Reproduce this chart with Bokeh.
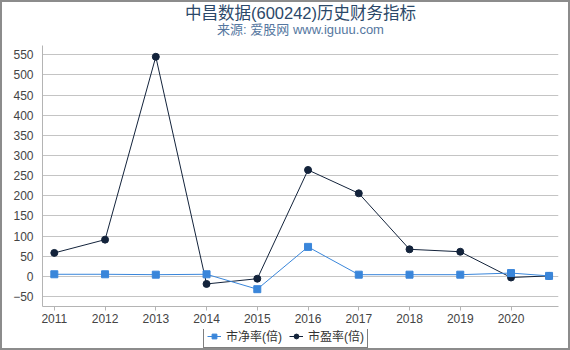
from bokeh.plotting import figure
from bokeh.layouts import column
from bokeh.models import Label, Legend, LegendItem, FixedTicker, Range1d
from bokeh.embed import file_html
from bokeh.resources import INLINE

# data
years = [2011, 2012, 2013, 2014, 2015, 2016, 2017, 2018, 2019, 2020, 2020.75]
pb_values = [5, 5, 4, 5, -32, 73, 4, 4, 4, 8, 1]        # 市净率(倍)
pe_values = [58, 91, 545, -19, -6, 264, 206, 67, 61, -3, 1]  # 市盈率(倍)
x_ticks = [2011, 2012, 2013, 2014, 2015, 2016, 2017, 2018, 2019, 2020]
x_tick_labels = [str(v) for v in x_ticks]
y_ticks = [-50, 0, 50, 100, 150, 200, 250, 300, 350, 400, 450, 500, 550]

title_text = "中昌数据(600242)历史财务指标"
subtitle_text = "来源: 爱股网 www.iguuu.com"
pb_label = "市净率(倍)"
pe_label = "市盈率(倍)"

FONT = "Liberation Sans, Noto Sans CJK SC, sans-serif"
BLUE = "#3a86da"
DARK = "#13233b"
W = 566

# header strip with title and subtitle
hd = figure(width=W, height=43, output_backend="svg", toolbar_location=None,
            x_range=Range1d(0, W), y_range=Range1d(0, 43),
            x_axis_type=None, y_axis_type=None, min_border=0, title=None)
hd.grid.visible = False
hd.outline_line_color = None
hd.border_fill_color = "white"
hd.add_layout(Label(x=W / 2, y=33, text=title_text, text_align="center",
                    text_baseline="middle", text_font=FONT,
                    text_font_size="16.5px", text_color="#2b4869"))
hd.add_layout(Label(x=W / 2, y=16, text=subtitle_text, text_align="center",
                    text_baseline="middle", text_font=FONT,
                    text_font_size="13px", text_color="#5577a0"))

# main chart
p = figure(width=W, height=284, output_backend="svg", toolbar_location=None,
           x_range=Range1d(2010.767, 2020.936), y_range=Range1d(-75, 573),
           min_border_left=40, min_border_right=10, min_border_top=0,
           min_border_bottom=23, title=None)
p.outline_line_color = None
p.background_fill_color = "white"
p.border_fill_color = "white"

p.line(years, pe_values, line_color=DARK, line_width=1)
p.scatter(years, pe_values, marker="circle", size=7, fill_color=DARK, line_color=DARK)
p.line(years, pb_values, line_color=BLUE, line_width=1)
p.scatter(years, pb_values, marker="square", size=7, fill_color=BLUE, line_color=BLUE)

p.xaxis.ticker = FixedTicker(ticks=x_ticks)
p.xaxis.major_label_overrides = {t: l for t, l in zip(x_ticks, x_tick_labels)}
p.yaxis.ticker = FixedTicker(ticks=y_ticks)

for ax in (p.xaxis[0], p.yaxis[0]):
    ax.axis_line_color = "#b4b4b4"
    ax.major_tick_line_color = "#b4b4b4"
    ax.minor_tick_line_color = None
    ax.major_label_text_font = FONT
    ax.major_label_text_font_size = "12px"
    ax.major_label_text_color = "#444444"
    ax.major_tick_in = 0
p.xaxis.major_tick_out = 4
p.xaxis.major_label_standoff = 3
p.yaxis.major_tick_out = 0
p.yaxis.major_label_standoff = 9

p.xgrid.grid_line_color = None
p.ygrid.grid_line_color = "#c4c4c4"

# legend strip below the chart (its glyphs sit outside the visible range)
lg = figure(width=W, height=19, output_backend="svg", toolbar_location=None,
            x_range=Range1d(0, 1), y_range=Range1d(0, 1),
            x_axis_type=None, y_axis_type=None, min_border=0, title=None)
lg.grid.visible = False
lg.outline_line_color = None
lg.border_fill_color = "white"
hidden_x = [5, 6]
hidden_y = [5, 6]
l_pb_line = lg.line(hidden_x, hidden_y, line_color=BLUE, line_width=1)
l_pb_pts = lg.scatter(hidden_x, hidden_y, marker="square", size=7, fill_color=BLUE, line_color=BLUE)
l_pe_line = lg.line(hidden_x, hidden_y, line_color=DARK, line_width=1)
l_pe_pts = lg.scatter(hidden_x, hidden_y, marker="circle", size=7, fill_color=DARK, line_color=DARK)

legend = Legend(items=[LegendItem(label=pb_label, renderers=[l_pb_line, l_pb_pts]),
                       LegendItem(label=pe_label, renderers=[l_pe_line, l_pe_pts])],
                orientation="horizontal", location=(161, 0),
                border_line_color="black", border_line_width=1,
                padding=3, spacing=7, margin=0, glyph_width=14, glyph_height=12,
                label_standoff=5, label_text_font=FONT, label_text_font_size="12px",
                label_text_color="#333333", background_fill_alpha=1)
lg.add_layout(legend, "center")

layout = column(hd, p, lg, spacing=0, styles={"border": "2px solid #8c8c8c"})

open("out.html", "w").write(file_html(layout, INLINE))
